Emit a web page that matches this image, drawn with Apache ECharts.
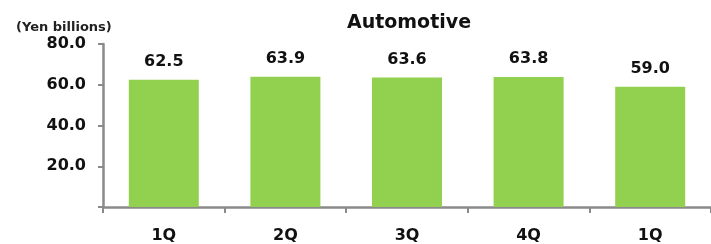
<!DOCTYPE html>
<html><head><meta charset="utf-8">
<script src="https://cdn.jsdelivr.net/npm/echarts@6/dist/echarts.min.js"></script>
<style>html,body{margin:0;padding:0;background:#fff}#c{width:711px;height:244px}</style>
</head><body><div id="c"></div>
<script>
const categories = ['1Q', '2Q', '3Q', '4Q', '1Q'];
const values = [62.5, 63.9, 63.6, 63.8, 59.0];
const yTicks = [0, 20, 40, 60, 80];
const titleText = 'Automotive';
const unitText = '(Yen billions)';

const FONT = 'DejaVu Sans';
const chart = echarts.init(document.getElementById('c'), null, {renderer: 'canvas'});
chart.setOption({
  animation: false,
  backgroundColor: '#fff',
  title: [
    {text: titleText, left: 404, top: 9, textAlign: 'center',
     textStyle: {fontFamily: FONT, fontWeight: 'bold', fontSize: 19, color: '#111'}},
    {text: unitText, left: 11, top: 16,
     textStyle: {fontFamily: FONT, fontWeight: 'bold', fontSize: 13, color: '#222'}}
  ],
  grid: {left: 103, top: 44, width: 610, height: 163, containLabel: false},
  xAxis: {
    type: 'category', data: categories,
    axisLine: {lineStyle: {color: '#8a8a8a', width: 2.5}},
    axisTick: {show: true, length: 6, alignWithLabel: false, lineStyle: {color: '#8a8a8a', width: 2}},
    axisLabel: {margin: 21, fontFamily: FONT, fontWeight: 'bold', fontSize: 16, color: '#111'}
  },
  yAxis: {
    type: 'value', min: yTicks[0], max: yTicks[yTicks.length - 1], interval: 20,
    splitLine: {show: false},
    axisLine: {show: true, lineStyle: {color: '#8a8a8a', width: 2.5}},
    axisTick: {show: true, length: 5, lineStyle: {color: '#8a8a8a', width: 2}},
    axisLabel: {margin: 17, fontFamily: FONT, fontWeight: 'bold', fontSize: 16, color: '#111',
      formatter: v => v === 0 ? '' : v.toFixed(1)}
  },
  series: [{
    type: 'bar', data: values, barWidth: 70,
    itemStyle: {color: '#92D050'},
    label: {show: true, position: 'top', distance: 10, fontFamily: FONT, fontWeight: 'bold', fontSize: 16, color: '#111',
      formatter: p => p.value.toFixed(1)}
  }]
});
</script></body></html>
